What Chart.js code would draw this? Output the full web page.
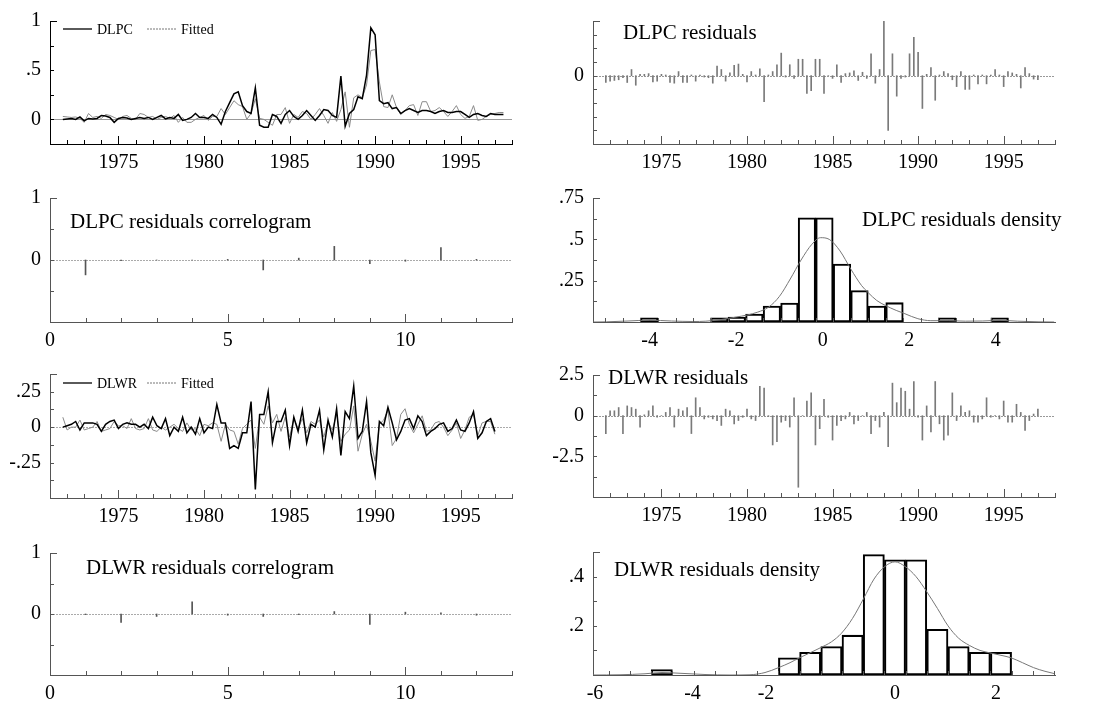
<!DOCTYPE html>
<html><head><meta charset="utf-8">
<script src="https://cdn.jsdelivr.net/npm/chart.js@4.4.1/dist/chart.umd.min.js"></script>
<style>
html,body{margin:0;padding:0;background:#fff;}
body{width:1098px;height:706px;position:relative;overflow:hidden;}
canvas{position:absolute;}
</style></head><body>
<script>
// ---------------- DATA ----------------
const START_QUARTER = 1971.75; // first observation (quarterly)
const DLPC = [0.0,0.005,0.01,0.0,0.025,-0.015,0.01,0.005,0.01,0.04,
0.035,0.02,-0.03,0.01,0.02,0.015,0.0,0.01,0.02,0.01,
0.02,0.0,0.02,0.04,0.005,0.02,0.01,0.05,-0.01,0.0,
0.02,0.06,0.02,0.02,0.01,0.05,0.02,-0.05,0.08,0.17,
0.26,0.28,0.14,0.08,0.06,0.32,-0.06,-0.08,-0.08,0.05,
0.03,-0.04,0.05,0.09,0.03,0.0,0.04,0.09,0.04,-0.01,
0.04,0.10,0.09,0.04,0.02,0.44,-0.07,0.06,0.10,0.23,
0.21,0.45,0.93,0.86,0.19,0.16,0.17,0.11,0.12,0.06,
0.09,0.11,0.09,0.07,0.09,0.09,0.08,0.06,0.08,0.09,
0.07,0.07,0.08,0.08,0.05,0.02,0.05,0.06,0.04,0.03,
0.06,0.05,0.05,0.05];
const DLPC_FITTED = [0.03,0.025,0.02,0.025,0.01,-0.03,0.06,0.02,0.03,0.01,
0.05,0.04,0.02,0.0,0.03,0.04,0.01,0.0,0.06,0.05,
0.02,0.03,0.0,0.02,0.03,0.01,0.04,-0.03,0.02,-0.03,
-0.03,0.0,0.02,0.04,-0.01,0.03,0.03,0.11,0.05,0.12,
0.19,0.15,0.13,0.0,0.06,0.21,0.01,0.0,-0.03,-0.06,
0.05,0.05,0.12,-0.04,0.05,0.02,0.08,0.06,0.0,0.05,
0.11,0.04,-0.04,0.07,-0.02,0.10,0.28,-0.08,0.22,0.25,
0.22,0.35,0.70,0.71,0.38,0.13,0.12,0.25,0.12,0.05,
0.09,0.14,0.15,0.04,0.18,0.18,0.08,0.09,0.12,0.08,
0.03,0.08,0.14,0.05,0.01,0.03,0.14,-0.01,0.0,0.03,
0.05,0.06,0.07,0.07];
const DLPC_RESID = [-0.5,-0.4,-0.35,-0.3,-0.15,-0.5,0.45,-0.7,0.1,0.1,
0.15,-0.45,-0.4,0.1,0.05,-0.5,-0.55,0.3,-0.5,-0.5,
0.05,-0.4,0.05,-0.1,-0.15,-0.55,0.7,0.45,-0.4,0.2,
0.75,0.85,0.1,-0.45,0.3,0.05,0.5,-1.9,0.05,0.3,
0.8,1.65,-0.1,0.8,-0.2,1.2,1.2,-1.3,-1.1,1.2,
1.2,-1.3,0.0,-0.2,0.8,-0.5,0.15,0.2,0.35,-0.35,
0.25,-0.2,1.6,-0.55,0.45,4.0,-4.0,1.6,-1.5,-0.2,
-0.1,1.6,2.8,1.7,-2.4,0.1,0.6,-1.8,0.05,0.3,
0.15,-0.3,-0.8,0.3,-1.0,-1.0,0.05,-0.6,0.05,-0.6,
0.05,0.45,0.05,-0.8,0.3,0.2,0.1,-0.9,0.6,0.15,
-0.25,-0.3];
const LAGS = [1,2,3,4,5,6,7,8,9,10,11,12];
const DLPC_ACF = [-0.24,-0.01,0.0,0.0,0.01,-0.16,0.03,0.22,-0.06,-0.02,0.2,0.01];
const DLPC_HIST_X = [-4.01,-2.39,-1.985,-1.58,-1.175,-0.77,-0.365,0.04,0.445,0.85,1.255,1.66,2.875,4.09];
const DLPC_HIST_Y = [0.025,0.025,0.03,0.048,0.096,0.115,0.63,0.63,0.35,0.19,0.096,0.117,0.025,0.025];
const DLPC_DENS_X = [-5.3,-5.0,-4.5,-4.0,-3.5,-3.0,-2.7,-2.4,-2.0,-1.75,-1.5,-1.25,-1.0,-0.75,-0.5,-0.25,-0.05,0.15,0.4,0.65,0.9,1.05,1.25,1.45,1.7,1.9,2.2,2.5,2.9,3.3,3.7,4.1,4.5,5.0,5.35];
const DLPC_DENS_Y = [0.0,0.001,0.006,0.011,0.006,0.003,0.005,0.013,0.03,0.042,0.06,0.09,0.155,0.26,0.375,0.47,0.51,0.5,0.43,0.32,0.22,0.178,0.13,0.1,0.07,0.05,0.02,0.008,0.008,0.005,0.006,0.01,0.005,0.001,0.0];

const DLWR = [0.0,0.01,0.02,0.04,-0.02,0.03,0.03,0.03,0.02,-0.03,
0.02,0.04,0.05,-0.01,0.02,0.03,0.02,0.02,0.0,0.02,
-0.01,0.07,0.01,-0.01,0.06,-0.06,0.0,-0.03,0.07,-0.04,
0.0,-0.05,0.06,-0.04,0.0,-0.01,0.16,0.03,0.03,-0.15,
-0.13,-0.15,-0.04,-0.04,0.18,-0.44,0.09,0.09,0.25,-0.11,
0.04,0.04,0.12,-0.13,0.07,-0.03,0.12,-0.11,0.02,0.0,
0.12,-0.16,0.05,-0.07,0.13,-0.2,0.11,0.06,0.29,-0.08,
-0.03,0.18,-0.18,-0.34,0.04,0.01,0.14,0.03,-0.09,-0.03,
0.05,0.06,-0.01,0.08,0.04,-0.06,-0.03,-0.01,0.02,0.03,
-0.03,-0.01,0.05,-0.02,-0.03,0.03,0.11,-0.08,-0.04,0.04,
0.06,-0.03];
const DLWR_FITTED = [0.07,-0.02,0.0,0.0,0.05,-0.02,-0.01,0.0,0.04,-0.03,
-0.02,-0.01,0.04,0.01,0.01,-0.01,0.06,-0.01,-0.02,-0.01,
0.06,-0.02,-0.03,0.0,-0.02,0.0,0.02,-0.01,-0.03,0.03,
-0.02,-0.01,-0.06,0.02,0.01,0.03,0.02,-0.1,0.02,-0.02,
-0.03,-0.12,-0.01,0.02,0.05,-0.15,0.07,0.02,0.15,0.03,
0.09,-0.03,0.07,-0.07,0.06,-0.01,0.06,-0.04,0.04,0.02,
0.05,-0.07,0.04,-0.02,0.09,-0.1,-0.05,-0.02,0.15,-0.17,
-0.05,0.02,-0.1,-0.24,0.02,0.05,0.12,-0.13,-0.08,0.09,
0.13,0.02,-0.04,0.02,0.08,-0.03,-0.02,0.03,0.04,0.0,
-0.06,-0.02,0.03,-0.08,-0.02,0.07,0.09,-0.06,0.03,0.04,
0.04,-0.05];
const DLWR_RESID = [-1.1,0.3,0.3,0.5,-1.1,0.6,0.5,0.4,-0.7,0.05,
0.3,0.6,-0.1,0.0,0.2,0.5,-0.7,0.4,0.3,0.5,
-1.1,1.1,0.5,-0.2,-0.1,-0.2,-0.3,-0.6,0.4,0.3,
-0.5,-0.3,-0.1,0.4,-0.2,-0.3,1.8,1.7,-0.05,-1.8,
-1.6,-0.4,-0.3,-0.7,1.1,-4.4,0.0,0.9,1.4,-1.8,
-0.8,1.0,-0.1,-1.5,-0.6,-0.3,-0.2,0.2,-0.5,-0.3,
0.0,0.2,-1.1,-0.3,-0.7,0.2,-1.9,2.0,0.8,1.7,
1.5,0.4,2.1,-0.1,-1.5,0.6,-1.0,2.1,-0.5,-1.5,
-1.2,1.4,-0.3,0.6,0.2,0.3,-0.4,-0.4,-0.2,1.1,
-0.1,0.0,-0.2,0.9,-0.4,-0.4,0.7,0.2,-0.9,-0.3,
0.1,0.4];
const DLWR_ACF = [-0.01,-0.14,-0.04,0.2,-0.02,-0.04,-0.01,0.04,-0.17,0.03,0.02,-0.02];
const DLWR_HIST_X = [-4.664,-2.12,-1.696,-1.272,-0.848,-0.424,0,0.424,0.848,1.272,1.696,2.12];
const DLWR_HIST_Y = [0.022,0.07,0.092,0.116,0.162,0.49,0.468,0.468,0.186,0.116,0.092,0.092];
const DLWR_DENS_X = [-6.04,-5.5,-5.0,-4.66,-4.3,-3.8,-3.3,-2.9,-2.6,-2.33,-2.1,-1.91,-1.7,-1.5,-1.27,-1.07,-0.85,-0.63,-0.42,-0.21,0,0.21,0.42,0.63,0.85,1.06,1.27,1.49,1.7,1.9,2.12,2.32,2.55,2.77,3.0,3.2];
const DLWR_DENS_Y = [0.0,0.001,0.005,0.01,0.007,0.002,0.0,0.001,0.01,0.03,0.05,0.07,0.09,0.11,0.135,0.17,0.23,0.31,0.39,0.44,0.46,0.44,0.4,0.34,0.27,0.2,0.15,0.12,0.1,0.09,0.08,0.07,0.05,0.03,0.015,0.005];

// ---------------- TICKS ----------------
const YEAR_TICKS = [1971,1972,1973,1974,1975,1976,1977,1978,1979,1980,1981,1982,1983,1984,1985,1986,1987,1988,1989,1990,1991,1992,1993,1994,1995,1996,1997,1998];
const YEAR_LABELS = ['','','','','1975','','','','','1980','','','','','1985','','','','','1990','','','','','1995','','',''];
const LAG_TICKS = [0,1,2,3,4,5,6,7,8,9,10,11,12,13];
const LAG_LABELS = ['0','','','','','5','','','','','10','','',''];
const DLPC_Y_TICKS = [-0.25,0,0.25,0.5,0.75,1];
const DLPC_Y_LABELS = ['','0','','.5','','1'];
const RES1_Y_TICKS = [-5,-4,-3,-2,-1,0,1,2,3,4];
const RES1_Y_LABELS = ['','','','','','0','','','',''];
const ACF_Y_TICKS = [-1,-0.5,0,0.5,1];
const ACF_Y_LABELS = ['','','0','','1'];
const DENS1_Y_TICKS = [0,0.125,0.25,0.375,0.5,0.625,0.75];
const DENS1_Y_LABELS = ['','','.25','','.5','','.75'];
const DENS1_X_TICKS = [-4,-2,0,2,4];
const DENS1_X_LABELS = ['-4','-2','0','2','4'];
const DENS1_X_MINOR = [-5.022,-4.617,-4.212,-3.807,-3.402,-2.997,-2.592,-2.187,-1.782,-1.377,-0.972,-0.567,-0.162,0.243,0.648,1.053,1.458,1.863,2.268,2.673,3.078,3.483,3.888,4.293,4.698,5.103];
const DLWR_Y_TICKS = [-0.5,-0.375,-0.25,-0.125,0,0.125,0.25,0.375];
const DLWR_Y_LABELS = ['','','-.25','','0','','.25',''];
const RES2_Y_TICKS = [-5,-3.75,-2.5,-1.25,0,1.25,2.5];
const RES2_Y_LABELS = ['','','-2.5','','0','','2.5'];
const DENS2_Y_TICKS = [0,0.1,0.2,0.3,0.4,0.5];
const DENS2_Y_LABELS = ['','','.2','','.4',''];
const DENS2_X_TICKS = [-6.0,-4.05,-2.58,0,2.02];
const DENS2_X_LABELS = ['-6','-4','-2','0','2'];
const DENS2_X_MINOR = [-5.724,-5.3,-4.876,-4.452,-4.028,-3.604,-3.18,-2.756,-2.332,-1.908,-1.484,-1.06,-0.636,-0.212,0.212,0.636,1.06,1.484,1.908,2.332,2.756,3.18];

// ---------------- HELPERS ----------------
const SERIF = '"Liberation Serif","Times New Roman",Times,serif';
const quarterly = arr => arr.map((v,i)=>({x: START_QUARTER + 0.25*i, y: v}));
const pairs = (xs, ys) => xs.map((x,i)=>({x, y: ys[i]}));

function fixedTicks(values, labels, pad) {
  return {
    afterBuildTicks(scale){ scale.ticks = values.map(v=>({value:v})); },
    ticks: {autoSkip:false, maxRotation:0, minRotation:0, padding:pad, color:'#000',
            font:{family:SERIF, size:20}, callback:(v,i)=>labels[i]}
  };
}

function buildPanel(cfg) {
  const cv = document.createElement('canvas');
  const W = cfg.colW;
  const top = cfg.area.top - 16;
  const H = (cfg.area.bottom - cfg.area.top) + 16 + 34;
  cv.width = W; cv.height = H;
  cv.style.left = cfg.colLeft + 'px'; cv.style.top = top + 'px';
  cv.style.width = W + 'px'; cv.style.height = H + 'px';
  document.body.appendChild(cv);
  const ox = cfg.colLeft, oy = top;
  const axisColor = cfg.solidAxis ? '#000' : '#555';
  const axisDash = cfg.solidAxis ? [] : [2,1];

  const deco = {
    id: 'deco',
    beforeDatasetsDraw(chart) {
      if (!cfg.zero) return;
      const {ctx, chartArea: a} = chart;
      const y = chart.scales.y.getPixelForValue(0);
      ctx.save();
      ctx.strokeStyle = cfg.zero.color; ctx.lineWidth = 1;
      ctx.setLineDash(cfg.zero.dash);
      ctx.beginPath(); ctx.moveTo(a.left, Math.round(y)+0.5); ctx.lineTo(a.right, Math.round(y)+0.5); ctx.stroke();
      ctx.restore();
    },
    afterDraw(chart) {
      const {ctx, chartArea: a, scales: {x, y}} = chart;
      ctx.save();
      ctx.strokeStyle = axisColor; ctx.lineWidth = 1; ctx.setLineDash([]);
      const xTick = (v, len) => {
        const px = Math.round(x.getPixelForValue(v)) + 0.5;
        if (px < a.left - 1 || px > a.right + 1) return;
        ctx.beginPath(); ctx.moveTo(px, a.bottom); ctx.lineTo(px, a.bottom - len); ctx.stroke();
      };
      if (cfg.x.minor) {
        cfg.x.minor.forEach(v => xTick(v, 4));
      } else {
        x.ticks.forEach(t => xTick(t.value, t.label ? 8 : 4));
      }
      const yMax = y.max;
      y.ticks.forEach(t => {
        const py = Math.round(y.getPixelForValue(t.value)) + 0.5;
        const len = (t.value === yMax) ? 7 : 4;
        ctx.beginPath(); ctx.moveTo(a.left, py); ctx.lineTo(a.left + len, py); ctx.stroke();
      });
      // panel title
      if (cfg.title) {
        ctx.fillStyle = '#000';
        ctx.font = '21px ' + SERIF;
        ctx.textAlign = 'left'; ctx.textBaseline = 'middle';
        ctx.fillText(cfg.title.text, cfg.title.x - ox, cfg.title.y - oy);
      }
      // legend
      if (cfg.legend) {
        const ly = cfg.legend.y - oy;
        ctx.font = '14px ' + SERIF; ctx.textBaseline = 'middle'; ctx.textAlign = 'left';
        ctx.strokeStyle = '#000'; ctx.lineWidth = 1.3;
        ctx.beginPath(); ctx.moveTo(63 - ox, ly); ctx.lineTo(92 - ox, ly); ctx.stroke();
        ctx.fillStyle = '#000'; ctx.fillText(cfg.legend.name, 97 - ox, ly + 1);
        ctx.strokeStyle = '#777'; ctx.lineWidth = 1; ctx.setLineDash([2,1]);
        ctx.beginPath(); ctx.moveTo(147 - ox, ly); ctx.lineTo(177 - ox, ly); ctx.stroke();
        ctx.setLineDash([]);
        ctx.fillText('Fitted', 181 - ox, ly + 1);
      }
      ctx.restore();
    }
  };

  new Chart(cv, {
    type: 'bar',
    data: {datasets: cfg.datasets},
    options: {
      responsive: false, animation: false, devicePixelRatio: 1,
      layout: {padding: {top: 16, left: 0, bottom: 0, right: ox + W - cfg.area.right}},
      plugins: {legend: {display: false}, tooltip: {enabled: false}, title: {display: false}},
      scales: {
        x: Object.assign({type: 'linear', position: 'bottom', min: cfg.x.min, max: cfg.x.max,
             offset: false, bounds: 'data', grid: {display: false, drawTicks: false, tickLength: 0},
             border: {display: true, color: axisColor, dash: axisDash, width: 1},
             afterFit(s){ s.height = 34; }}, fixedTicks(cfg.x.ticks, cfg.x.labels, 7)),
        y: Object.assign({type: 'linear', position: 'left', min: cfg.y.min, max: cfg.y.max,
             bounds: 'data', grid: {display: false, drawTicks: false, tickLength: 0},
             border: {display: true, color: axisColor, dash: axisDash, width: 1},
             afterFit(s){ s.width = cfg.area.left - ox; }}, fixedTicks(cfg.y.ticks, cfg.y.labels, 9))
      }
    },
    plugins: [deco]
  });
}

const lineDs = (data, color, width) => ({type: 'line', data, borderColor: color, borderWidth: width,
  pointRadius: 0, fill: false, tension: 0});
const spikeDs = (data, color) => ({type: 'bar', data, backgroundColor: color, barThickness: 1,
  borderWidth: 0});
const histDs = (data) => ({type: 'bar', data, backgroundColor: 'rgba(255,255,255,0)', borderColor: '#000',
  borderWidth: 1.4, borderSkipped: false, barPercentage: 1, categoryPercentage: 1});
const curveDs = (data) => ({type: 'line', data, borderColor: '#777', borderWidth: 1, pointRadius: 0,
  fill: false, cubicInterpolationMode: 'monotone'});

const LEFT = {colLeft: 0, colW: 540};
const RIGHT = {colLeft: 545, colW: 553};
const timeX = {min: 1971, max: 1998, ticks: YEAR_TICKS, labels: YEAR_LABELS};
const lagX = {min: 0, max: 13, ticks: LAG_TICKS, labels: LAG_LABELS};

// Panel 1: DLPC and fitted
buildPanel(Object.assign({}, LEFT, {
  area: {left: 50, top: 16, right: 512, bottom: 144}, solidAxis: true,
  x: timeX, y: {min: -0.25, max: 1, ticks: DLPC_Y_TICKS, labels: DLPC_Y_LABELS},
  zero: {color: '#999', dash: []},
  legend: {y: 29, name: 'DLPC'},
  datasets: [lineDs(quarterly(DLPC), '#000', 1.5), lineDs(quarterly(DLPC_FITTED), '#8a8a8a', 1)]
}));
// Panel 2: DLPC residuals
buildPanel(Object.assign({}, RIGHT, {
  area: {left: 593, top: 16, right: 1055, bottom: 144},
  x: timeX, y: {min: -5, max: 4, ticks: RES1_Y_TICKS, labels: RES1_Y_LABELS},
  zero: {color: '#999', dash: [2,1]},
  title: {text: 'DLPC residuals', x: 623, y: 33},
  datasets: [spikeDs(quarterly(DLPC_RESID), '#7a7a7a')]
}));
// Panel 3: DLPC correlogram
buildPanel(Object.assign({}, LEFT, {
  area: {left: 50, top: 193, right: 512, bottom: 322},
  x: lagX, y: {min: -1, max: 1, ticks: ACF_Y_TICKS, labels: ACF_Y_LABELS},
  zero: {color: '#aaa', dash: [2,1]},
  title: {text: 'DLPC residuals correlogram', x: 70, y: 222},
  datasets: [spikeDs(pairs(LAGS, DLPC_ACF), '#555')]
}));
// Panel 4: DLPC density
buildPanel(Object.assign({}, RIGHT, {
  area: {left: 593, top: 193, right: 1055, bottom: 322},
  x: {min: -5.31, max: 5.37, ticks: DENS1_X_TICKS, labels: DENS1_X_LABELS, minor: DENS1_X_MINOR},
  y: {min: 0, max: 0.75, ticks: DENS1_Y_TICKS, labels: DENS1_Y_LABELS},
  title: {text: 'DLPC residuals density', x: 862, y: 220},
  datasets: [curveDs(pairs(DLPC_DENS_X, DLPC_DENS_Y)), histDs(pairs(DLPC_HIST_X, DLPC_HIST_Y))]
}));
// Panel 5: DLWR and fitted
buildPanel(Object.assign({}, LEFT, {
  area: {left: 50, top: 369, right: 512, bottom: 498},
  x: timeX, y: {min: -0.5, max: 0.375, ticks: DLWR_Y_TICKS, labels: DLWR_Y_LABELS},
  zero: {color: '#aaa', dash: [2,1]},
  legend: {y: 383, name: 'DLWR'},
  datasets: [lineDs(quarterly(DLWR), '#000', 1.5), lineDs(quarterly(DLWR_FITTED), '#8a8a8a', 1)]
}));
// Panel 6: DLWR residuals
buildPanel(Object.assign({}, RIGHT, {
  area: {left: 593, top: 370, right: 1055, bottom: 497},
  x: timeX, y: {min: -5, max: 2.5, ticks: RES2_Y_TICKS, labels: RES2_Y_LABELS},
  zero: {color: '#999', dash: [2,1]},
  title: {text: 'DLWR residuals', x: 608, y: 378},
  datasets: [spikeDs(quarterly(DLWR_RESID), '#7a7a7a')]
}));
// Panel 7: DLWR correlogram
buildPanel(Object.assign({}, LEFT, {
  area: {left: 50, top: 548, right: 512, bottom: 675},
  x: lagX, y: {min: -1, max: 1, ticks: ACF_Y_TICKS, labels: ACF_Y_LABELS},
  zero: {color: '#aaa', dash: [2,1]},
  title: {text: 'DLWR residuals correlogram', x: 86, y: 568},
  datasets: [spikeDs(pairs(LAGS, DLWR_ACF), '#555')]
}));
// Panel 8: DLWR density
buildPanel(Object.assign({}, RIGHT, {
  area: {left: 593, top: 547, right: 1055, bottom: 675},
  x: {min: -6.04, max: 3.2, ticks: DENS2_X_TICKS, labels: DENS2_X_LABELS, minor: DENS2_X_MINOR},
  y: {min: 0, max: 0.5, ticks: DENS2_Y_TICKS, labels: DENS2_Y_LABELS},
  title: {text: 'DLWR residuals density', x: 614, y: 570},
  datasets: [curveDs(pairs(DLWR_DENS_X, DLWR_DENS_Y)), histDs(pairs(DLWR_HIST_X, DLWR_HIST_Y))]
}));
</script>
</body></html>
